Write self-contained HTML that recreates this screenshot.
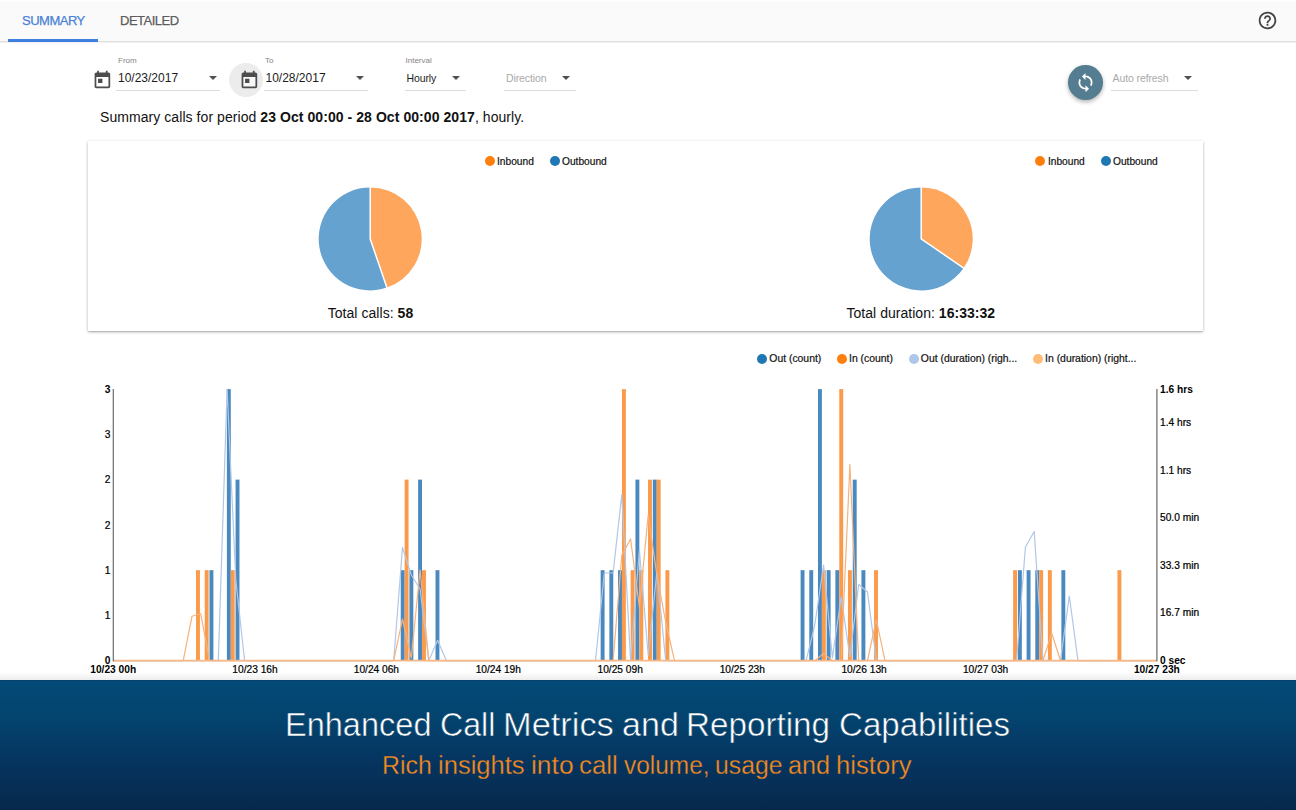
<!DOCTYPE html>
<html>
<head>
<meta charset="utf-8">
<title>Call Metrics</title>
<style>
html,body{margin:0;padding:0;}
body{width:1296px;height:810px;overflow:hidden;background:#fff;position:relative;font-family:"Liberation Sans",sans-serif;color:#212121;}
.abs{position:absolute;}
.t{position:absolute;white-space:nowrap;line-height:1;}
.tabbar{position:absolute;left:0;top:0;width:1296px;height:41px;background:#fafafa;border-bottom:1px solid #e0e0e0;box-shadow:0 1px 0 #f1f1f1;}
.tabbar:before{content:"";position:absolute;left:0;top:0;width:100%;height:3px;background:linear-gradient(#fff,#fafafa);}
.ul{position:absolute;height:1px;background:#dcdcdc;}
.card{position:absolute;left:88px;top:141px;width:1115px;height:190px;background:#fff;box-shadow:0 1px 3px rgba(0,0,0,.28),0 1px 1px rgba(0,0,0,.10);}
.dot{position:absolute;width:10px;height:10px;border-radius:50%;}
.lg.p{font-size:10.200px;}
.lg{position:absolute;white-space:nowrap;font-size:10.400px;line-height:12px;color:#111;margin-top:1px;-webkit-text-stroke:0.2px #111;}
.ax{position:absolute;white-space:nowrap;font-size:10.200px;line-height:12px;color:#000;-webkit-text-stroke:0.22px #000;}
.ax.r{text-align:right;}
.ax.c{text-align:center;}
.ax.b{font-weight:bold;-webkit-text-stroke:0;}
.arrow{position:absolute;width:0;height:0;border-left:4px solid transparent;border-right:4px solid transparent;border-top:4.5px solid #505050;}
.banner{position:absolute;left:0;top:680px;width:1296px;height:130px;background:linear-gradient(#03406a 0px,#044a78 2px,#03436e 40px,#053560 80px,#07284c 130px);}
.w{position:absolute;white-space:nowrap;line-height:1;transform-origin:0 0;}
.bshadow{position:absolute;left:0;top:672px;width:1296px;height:8px;background:linear-gradient(rgba(0,0,0,0),rgba(0,0,0,.07));}
</style>
</head>
<body>

<!-- tab bar -->
<div class="tabbar"></div>
<div class="t" id="tab1" style="left:22px;top:14px;font-size:13px;color:#4a82d6;letter-spacing:-0.5px;-webkit-text-stroke:0.25px #4a82d6;">SUMMARY</div>
<div class="abs" style="left:8px;top:39px;width:90px;height:2.5px;background:#3f7fe0;"></div>
<div class="t" id="tab2" style="left:120px;top:14px;font-size:13px;color:#5c5c5c;letter-spacing:-0.5px;-webkit-text-stroke:0.25px #5c5c5c;">DETAILED</div>
<svg class="abs" style="left:1257px;top:10px" width="21" height="21" viewBox="0 0 24 24"><path fill="#424242" d="M11 18h2v-2h-2v2zm1-16C6.48 2 2 6.48 2 12s4.480 10 10 10 10-4.480 10-10S17.520 2 12 2zm0 18c-4.410 0-8-3.590-8-8s3.590-8 8-8 8 3.590 8 8-3.590 8-8 8zm0-14c-2.210 0-4 1.790-4 4h2c0-1.100.9-2 2-2s2 .9 2 2c0 2-3 1.750-3 5h2c0-2.250 3-2.500 3-5 0-2.210-1.790-4-4-4z"/></svg>

<!-- filters -->
<div class="t" style="left:118px;top:57px;font-size:8px;color:#858585;">From</div>
<svg class="abs" style="left:91.500px;top:69.700px" width="20.800" height="20.800" viewBox="0 0 24 24"><path fill="#4d4d4d" d="M19 3h-1V1h-2v2H8V1H6v2H5c-1.110 0-1.990.9-1.990 2L3 19c0 1.100.89 2 2 2h14c1.100 0 2-.9 2-2V5c0-1.100-.9-2-2-2zm0 16H5V8h14v11zM7 10h5v5H7z"/></svg>
<div class="t" id="d1" style="left:118px;top:72px;font-size:12px;color:#1c1c1c;">10/23/2017</div>
<div class="arrow" style="left:209px;top:76px;"></div>
<div class="ul" style="left:116px;top:90px;width:104px;"></div>

<div class="abs" style="left:228.600px;top:63.200px;width:34px;height:34px;border-radius:50%;background:#ececec;"></div>
<svg class="abs" style="left:238.700px;top:69.700px" width="20.800" height="20.800" viewBox="0 0 24 24"><rect x="5" y="8" width="14" height="11" fill="#f7f7f7"/><path fill="#4d4d4d" d="M19 3h-1V1h-2v2H8V1H6v2H5c-1.110 0-1.990.9-1.990 2L3 19c0 1.100.89 2 2 2h14c1.100 0 2-.9 2-2V5c0-1.100-.9-2-2-2zm0 16H5V8h14v11zM7 10h5v5H7z"/></svg>
<div class="t" style="left:265px;top:57px;font-size:8px;color:#858585;">To</div>
<div class="t" id="d2" style="left:265.500px;top:72px;font-size:12px;color:#1c1c1c;">10/28/2017</div>
<div class="arrow" style="left:356px;top:76px;"></div>
<div class="ul" style="left:263.500px;top:90px;width:104px;"></div>

<div class="t" style="left:405.500px;top:57px;font-size:8px;color:#858585;">Interval</div>
<div class="t" id="iv" style="left:406.500px;top:73px;font-size:10.500px;letter-spacing:-0.12px;color:#1c1c1c;">Hourly</div>
<div class="arrow" style="left:452px;top:76px;"></div>
<div class="ul" style="left:405px;top:90px;width:61px;"></div>

<div class="t" id="dir" style="left:506px;top:73px;font-size:10.500px;letter-spacing:-0.1px;color:#a9a9a9;">Direction</div>
<div class="arrow" style="left:561.500px;top:76px;"></div>
<div class="ul" style="left:504px;top:90px;width:72px;"></div>

<div class="abs" style="left:1067.700px;top:64.500px;width:35px;height:35px;border-radius:50%;background:#547d91;box-shadow:0 2px 4px rgba(0,0,0,.3);"></div>
<svg class="abs" style="left:1074.700px;top:72px" width="21" height="21" viewBox="0 0 24 24"><path fill="#fff" d="M12 4V1L8 5l4 4V6c3.310 0 6 2.690 6 6 0 1.010-.25 1.970-.7 2.800l1.460 1.460C19.540 15.030 20 13.570 20 12c0-4.420-3.580-8-8-8zm0 14c-3.310 0-6-2.690-6-6 0-1.010.25-1.970.7-2.800L5.240 7.740C4.460 8.970 4 10.430 4 12c0 4.420 3.580 8 8 8v3l4-4-4-4v3z"/></svg>
<div class="t" id="ar" style="left:1112.500px;top:72.500px;font-size:10.500px;letter-spacing:-0.1px;color:#a9a9a9;">Auto refresh</div>
<div class="arrow" style="left:1183.500px;top:76px;"></div>
<div class="ul" style="left:1111px;top:90px;width:87px;"></div>

<div class="t" id="sum" style="left:100px;top:110px;font-size:14px;color:#111;letter-spacing:0.065px;">Summary calls for period <b>23 Oct 00:00 - 28 Oct 00:00 2017</b>, hourly.</div>

<!-- card -->
<div class="card"></div>
<div class="dot" style="left:484.500px;top:156.200px;background:#ff7f0e;"></div>
<div class="lg p" id="lg1" style="left:497px;top:154.700px;">Inbound</div>
<div class="dot" style="left:550px;top:156.200px;background:#1f77b4;"></div>
<div class="lg p" id="lg2" style="left:562px;top:154.700px;">Outbound</div>
<div class="dot" style="left:1035.400px;top:156.200px;background:#ff7f0e;"></div>
<div class="lg p" style="left:1047.900px;top:154.700px;">Inbound</div>
<div class="dot" style="left:1100.800px;top:156.200px;background:#1f77b4;"></div>
<div class="lg p" style="left:1113px;top:154.700px;">Outbound</div>
<div class="t" id="tc" style="left:327.700px;top:306px;font-size:14px;color:#111;letter-spacing:0.05px;">Total calls: <b>58</b></div>
<div class="t" id="td" style="left:846.500px;top:306px;font-size:14px;color:#111;letter-spacing:0.03px;">Total duration: <b>16:33:32</b></div>

<!-- bar chart legend -->
<div class="dot" style="left:757.100px;top:353.600px;background:#1f77b4;"></div>
<div class="lg" id="l1" style="left:769.300px;top:351.500px;">Out (count)</div>
<div class="dot" style="left:836.700px;top:353.600px;background:#ff7f0e;"></div>
<div class="lg" id="l2" style="left:849px;top:351.500px;">In (count)</div>
<div class="dot" style="left:908.500px;top:353.600px;background:#aec7e8;"></div>
<div class="lg" id="l3" style="left:920.800px;top:351.500px;">Out (duration) (righ...</div>
<div class="dot" style="left:1032.500px;top:353.600px;background:#ffbb78;"></div>
<div class="lg" id="l4" style="left:1045.100px;top:351.500px;">In (duration) (right...</div>

<svg class="abs" style="left:0;top:0" width="1296" height="680" viewBox="0 0 1296 680">
<path d="M370.2,238.9 L370.2,187.4 A51.5,51.5 0 0 1 386.88,287.62 Z" fill="#fea65c"/><path d="M370.2,238.9 L386.88,287.62 A51.5,51.5 0 1 1 370.2,187.4 Z" fill="#66a2d0"/><path d="M370.2,186.9 L370.2,238.9 L387.04,288.10" fill="none" stroke="#fff" stroke-width="1.5" stroke-linejoin="round"/><path d="M921.2,238.9 L921.2,187.4 A51.5,51.5 0 0 1 963.67,268.03 Z" fill="#fea65c"/><path d="M921.2,238.9 L963.67,268.03 A51.5,51.5 0 1 1 921.2,187.4 Z" fill="#66a2d0"/><path d="M921.2,186.9 L921.2,238.9 L964.08,268.32" fill="none" stroke="#fff" stroke-width="1.5" stroke-linejoin="round"/>
<rect x="209.49" y="570.17" width="3.91" height="90.53" fill="#4a89bf"/><rect x="226.88" y="389.10" width="3.91" height="271.60" fill="#4a89bf"/><rect x="235.57" y="479.63" width="3.91" height="181.07" fill="#4a89bf"/><rect x="400.73" y="570.17" width="3.91" height="90.53" fill="#4a89bf"/><rect x="409.42" y="570.17" width="3.91" height="90.53" fill="#4a89bf"/><rect x="418.12" y="479.63" width="3.91" height="181.07" fill="#4a89bf"/><rect x="435.50" y="570.17" width="3.91" height="90.53" fill="#4a89bf"/><rect x="600.66" y="570.17" width="3.91" height="90.53" fill="#4a89bf"/><rect x="609.36" y="570.17" width="3.91" height="90.53" fill="#4a89bf"/><rect x="618.05" y="570.17" width="3.91" height="90.53" fill="#4a89bf"/><rect x="635.43" y="479.63" width="3.91" height="181.07" fill="#4a89bf"/><rect x="652.82" y="479.63" width="3.91" height="181.07" fill="#4a89bf"/><rect x="800.60" y="570.17" width="3.91" height="90.53" fill="#4a89bf"/><rect x="809.29" y="570.17" width="3.91" height="90.53" fill="#4a89bf"/><rect x="817.98" y="389.10" width="3.91" height="271.60" fill="#4a89bf"/><rect x="826.68" y="570.17" width="3.91" height="90.53" fill="#4a89bf"/><rect x="835.37" y="570.17" width="3.91" height="90.53" fill="#4a89bf"/><rect x="852.75" y="479.63" width="3.91" height="181.07" fill="#4a89bf"/><rect x="861.45" y="570.17" width="3.91" height="90.53" fill="#4a89bf"/><rect x="1017.92" y="570.17" width="3.91" height="90.53" fill="#4a89bf"/><rect x="1026.61" y="570.17" width="3.91" height="90.53" fill="#4a89bf"/><rect x="1035.30" y="570.17" width="3.91" height="90.53" fill="#4a89bf"/><rect x="1061.38" y="570.17" width="3.91" height="90.53" fill="#4a89bf"/>
<rect x="196.02" y="570.17" width="3.91" height="90.53" fill="#fb9a4b"/><rect x="204.71" y="570.17" width="3.91" height="90.53" fill="#fb9a4b"/><rect x="230.79" y="570.17" width="3.91" height="90.53" fill="#fb9a4b"/><rect x="404.64" y="479.63" width="3.91" height="181.07" fill="#fb9a4b"/><rect x="422.03" y="570.17" width="3.91" height="90.53" fill="#fb9a4b"/><rect x="621.96" y="389.10" width="3.91" height="271.60" fill="#fb9a4b"/><rect x="630.65" y="570.17" width="3.91" height="90.53" fill="#fb9a4b"/><rect x="639.35" y="570.17" width="3.91" height="90.53" fill="#fb9a4b"/><rect x="648.04" y="479.63" width="3.91" height="181.07" fill="#fb9a4b"/><rect x="656.73" y="479.63" width="3.91" height="181.07" fill="#fb9a4b"/><rect x="665.42" y="570.17" width="3.91" height="90.53" fill="#fb9a4b"/><rect x="821.89" y="570.17" width="3.91" height="90.53" fill="#fb9a4b"/><rect x="839.28" y="389.10" width="3.91" height="271.60" fill="#fb9a4b"/><rect x="847.97" y="570.17" width="3.91" height="90.53" fill="#fb9a4b"/><rect x="874.05" y="570.17" width="3.91" height="90.53" fill="#fb9a4b"/><rect x="1013.13" y="570.17" width="3.91" height="90.53" fill="#fb9a4b"/><rect x="1039.21" y="570.17" width="3.91" height="90.53" fill="#fb9a4b"/><rect x="1047.91" y="570.17" width="3.91" height="90.53" fill="#fb9a4b"/><rect x="1117.45" y="570.17" width="3.91" height="90.53" fill="#fb9a4b"/>
<polyline points="113.0,660.7 121.8,660.7 130.5,660.7 139.3,660.7 148.1,660.7 156.9,660.7 165.6,660.7 174.4,660.7 183.2,660.7 192.0,660.7 200.7,660.7 209.5,660.7 218.3,660.7 227.1,389.0 235.8,580.0 244.6,660.7 253.4,660.7 262.1,660.7 270.9,660.7 279.7,660.7 288.5,660.7 297.2,660.7 306.0,660.7 314.8,660.7 323.6,660.7 332.3,660.7 341.1,660.7 349.9,660.7 358.6,660.7 367.4,660.7 376.2,660.7 385.0,660.7 393.7,660.7 402.5,547.4 411.3,575.0 420.1,589.0 428.8,660.7 437.6,640.3 446.4,660.7 455.2,660.7 463.9,660.7 472.7,660.7 481.5,660.7 490.2,660.7 499.0,660.7 507.8,660.7 516.6,660.7 525.3,660.7 534.1,660.7 542.9,660.7 551.7,660.7 560.4,660.7 569.2,660.7 578.0,660.7 586.7,660.7 595.5,660.7 604.3,573.0 613.1,573.0 621.8,494.5 630.6,660.7 639.4,550.0 648.2,655.0 656.9,572.0 665.7,660.7 674.5,660.7 683.3,660.7 692.0,660.7 700.8,660.7 709.6,660.7 718.3,660.7 727.1,660.7 735.9,660.7 744.7,660.7 753.4,660.7 762.2,660.7 771.0,660.7 779.8,660.7 788.5,660.7 797.3,660.7 806.1,660.7 814.8,625.0 823.6,565.0 832.4,658.0 841.2,596.8 849.9,657.0 858.7,584.5 867.5,592.0 876.3,660.7 885.0,660.7 893.8,660.7 902.6,660.7 911.4,660.7 920.1,660.7 928.9,660.7 937.7,660.7 946.4,660.7 955.2,660.7 964.0,660.7 972.8,660.7 981.5,660.7 990.3,660.7 999.1,660.7 1007.9,660.7 1016.6,660.7 1025.4,547.0 1034.2,531.6 1042.9,660.7 1051.7,660.7 1060.5,660.7 1069.3,596.0 1078.0,660.7 1086.8,660.7 1095.6,660.7 1104.4,660.7 1113.1,660.7 1121.9,660.7 1130.7,660.7 1139.5,660.7 1148.2,660.7 1157.0,660.7" fill="none" stroke="#b2c7e6" stroke-width="1.2" stroke-linejoin="round"/>
<polyline points="113.0,660.7 121.8,660.7 130.5,660.7 139.3,660.7 148.1,660.7 156.9,660.7 165.6,660.7 174.4,660.7 183.2,660.7 192.0,616.3 200.7,613.7 209.5,660.7 218.3,660.7 227.1,660.7 235.8,660.7 244.6,660.7 253.4,660.7 262.1,660.7 270.9,660.7 279.7,660.7 288.5,660.7 297.2,660.7 306.0,660.7 314.8,660.7 323.6,660.7 332.3,660.7 341.1,660.7 349.9,660.7 358.6,660.7 367.4,660.7 376.2,660.7 385.0,660.7 393.7,660.7 402.5,619.0 411.3,658.0 420.1,570.0 428.8,660.7 437.6,660.7 446.4,660.7 455.2,660.7 463.9,660.7 472.7,660.7 481.5,660.7 490.2,660.7 499.0,660.7 507.8,660.7 516.6,660.7 525.3,660.7 534.1,660.7 542.9,660.7 551.7,660.7 560.4,660.7 569.2,660.7 578.0,660.7 586.7,660.7 595.5,660.7 604.3,660.7 613.1,660.7 621.8,555.0 630.6,539.0 639.4,607.0 648.2,515.0 656.9,575.0 665.7,622.0 674.5,660.7 683.3,660.7 692.0,660.7 700.8,660.7 709.6,660.7 718.3,660.7 727.1,660.7 735.9,660.7 744.7,660.7 753.4,660.7 762.2,660.7 771.0,660.7 779.8,660.7 788.5,660.7 797.3,660.7 806.1,660.7 814.8,660.7 823.6,653.5 832.4,660.7 841.2,660.7 849.9,464.5 858.7,660.7 867.5,660.7 876.3,619.5 885.0,660.7 893.8,660.7 902.6,660.7 911.4,660.7 920.1,660.7 928.9,660.7 937.7,660.7 946.4,660.7 955.2,660.7 964.0,660.7 972.8,660.7 981.5,660.7 990.3,660.7 999.1,660.7 1007.9,660.7 1016.6,660.7 1025.4,660.7 1034.2,660.7 1042.9,660.7 1051.7,633.0 1060.5,660.7 1069.3,660.7 1078.0,660.7 1086.8,660.7 1095.6,660.7 1104.4,660.7 1113.1,660.7 1121.9,660.7 1130.7,660.7 1139.5,660.7 1148.2,660.7 1157.0,660.7" fill="none" stroke="#f6b27c" stroke-width="1.2" stroke-linejoin="round"/>
<line x1="113.0" y1="660.7" x2="1157.0" y2="660.7" stroke="#f6b888" stroke-width="1.7"/>
<line x1="113.3" y1="389.1" x2="113.3" y2="661.2" stroke="#6a6a6a" stroke-width="1.2"/>
<line x1="1156.9" y1="389.1" x2="1156.9" y2="661.2" stroke="#6a6a6a" stroke-width="1.2"/>
</svg>
<div class="ax r b" style="left:60px;width:50.300px;top:383.8px">3</div>
<div class="ax r " style="left:60px;width:50.300px;top:429.1px">3</div>
<div class="ax r " style="left:60px;width:50.300px;top:474.3px">2</div>
<div class="ax r " style="left:60px;width:50.300px;top:519.6px">2</div>
<div class="ax r " style="left:60px;width:50.300px;top:564.9px">1</div>
<div class="ax r " style="left:60px;width:50.300px;top:610.1px">1</div>
<div class="ax r b" style="left:60px;width:50.300px;top:655.4px">0</div>
<div class="ax b" style="left:1160px;top:383.7px">1.6 hrs</div>
<div class="ax " style="left:1160px;top:417.0px">1.4 hrs</div>
<div class="ax " style="left:1160px;top:464.5px">1.1 hrs</div>
<div class="ax " style="left:1160px;top:512.0px">50.0 min</div>
<div class="ax " style="left:1160px;top:559.6px">33.3 min</div>
<div class="ax " style="left:1160px;top:607.1px">16.7 min</div>
<div class="ax b" style="left:1160px;top:654.7px">0 sec</div>
<div class="ax c b" style="left:73.2px;width:80px;top:663.700px">10/23 00h</div>
<div class="ax c " style="left:215.0px;width:80px;top:663.700px">10/23 16h</div>
<div class="ax c " style="left:336.4px;width:80px;top:663.700px">10/24 06h</div>
<div class="ax c " style="left:458.3px;width:80px;top:663.700px">10/24 19h</div>
<div class="ax c " style="left:580.2px;width:80px;top:663.700px">10/25 09h</div>
<div class="ax c " style="left:702.3px;width:80px;top:663.700px">10/25 23h</div>
<div class="ax c " style="left:824.1px;width:80px;top:663.700px">10/26 13h</div>
<div class="ax c " style="left:945.6px;width:80px;top:663.700px">10/27 03h</div>
<div class="ax c b" style="left:1116.9px;width:80px;top:663.700px">10/27 23h</div>

<!-- banner -->
<div class="bshadow"></div>
<div class="banner"></div>
<span class="w" style="left:284.97px;top:707px;font-size:34px;color:#fff;transform:scaleX(0.9565);-webkit-text-stroke:0.55px #03416c;">Enhanced</span>
<span class="w" style="left:440.45px;top:707px;font-size:34px;color:#fff;transform:scaleX(0.945);-webkit-text-stroke:0.55px #03416c;">Call</span>
<span class="w" style="left:502.82px;top:707px;font-size:34px;color:#fff;transform:scaleX(1.0114);-webkit-text-stroke:0.55px #03416c;">Metrics</span>
<span class="w" style="left:621.9px;top:707px;font-size:34px;color:#fff;transform:scaleX(1.0019);-webkit-text-stroke:0.55px #03416c;">and</span>
<span class="w" style="left:685.91px;top:707px;font-size:34px;color:#fff;transform:scaleX(0.9768);-webkit-text-stroke:0.55px #03416c;">Reporting</span>
<span class="w" style="left:838.5px;top:707px;font-size:34px;color:#fff;transform:scaleX(0.9731);-webkit-text-stroke:0.55px #03416c;">Capabilities</span>
<span class="w" style="left:382.49px;top:752.300px;font-size:26px;color:#f78b1e;transform:scaleX(0.9567);-webkit-text-stroke:0.3px #05365f;">Rich</span>
<span class="w" style="left:438.28px;top:752.300px;font-size:26px;color:#f78b1e;transform:scaleX(0.9825);-webkit-text-stroke:0.3px #05365f;">insights</span>
<span class="w" style="left:530.52px;top:752.300px;font-size:26px;color:#f78b1e;transform:scaleX(1.0154);-webkit-text-stroke:0.3px #05365f;">into</span>
<span class="w" style="left:578.61px;top:752.300px;font-size:26px;color:#f78b1e;transform:scaleX(0.9931);-webkit-text-stroke:0.3px #05365f;">call</span>
<span class="w" style="left:623.9px;top:752.300px;font-size:26px;color:#f78b1e;transform:scaleX(0.9397);-webkit-text-stroke:0.3px #05365f;">volume,</span>
<span class="w" style="left:714.53px;top:752.300px;font-size:26px;color:#f78b1e;transform:scaleX(0.9515);-webkit-text-stroke:0.3px #05365f;">usage</span>
<span class="w" style="left:788.23px;top:752.300px;font-size:26px;color:#f78b1e;transform:scaleX(0.9693);-webkit-text-stroke:0.3px #05365f;">and</span>
<span class="w" style="left:835.67px;top:752.300px;font-size:26px;color:#f78b1e;transform:scaleX(0.986);-webkit-text-stroke:0.3px #05365f;">history</span>

</body>
</html>
